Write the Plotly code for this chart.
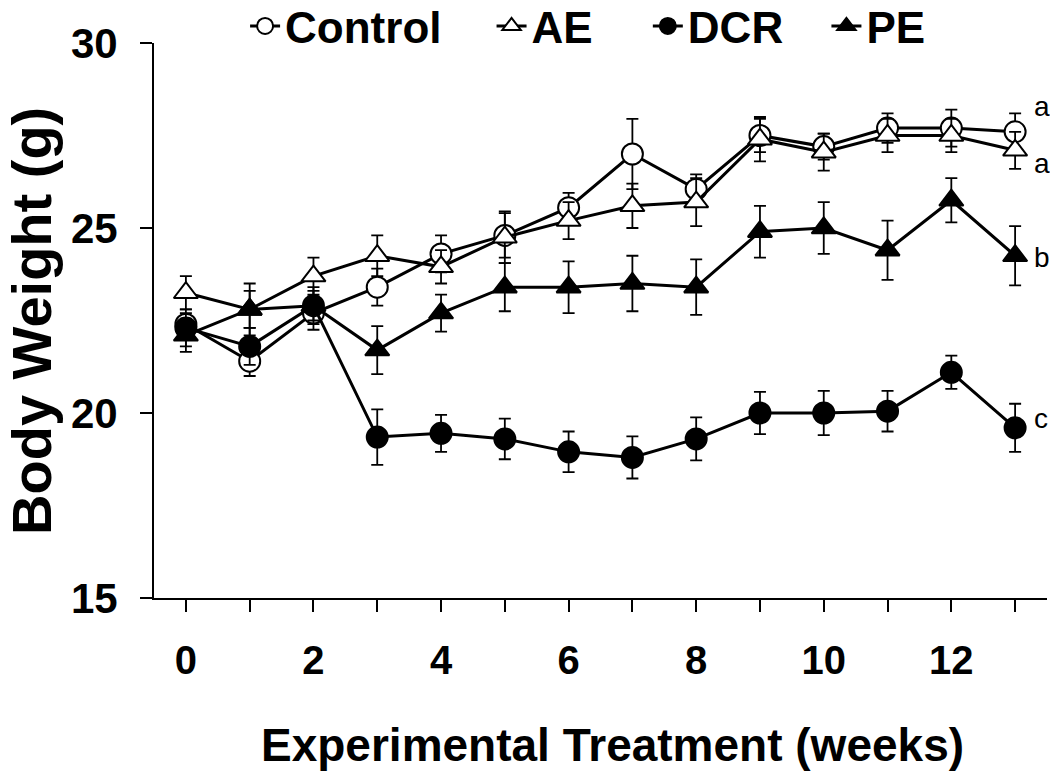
import plotly.graph_objects as go

weeks = list(range(14))
tick_labels = ["0", "", "2", "", "4", "", "6", "", "8", "", "10", "", "12", ""]

control = [22.4, 21.4, 22.7, 23.4, 24.3, 24.8, 25.55, 27.0, 26.05, 27.5, 27.2, 27.7, 27.7, 27.6]
control_err = [0.3, 0.4, 0.45, 0.5, 0.5, 0.6, 0.4, 0.95, 0.4, 0.45, 0.35, 0.4, 0.5, 0.5]
ae = [23.25, 22.8, 23.7, 24.25, 23.95, 24.75, 25.2, 25.6, 25.7, 27.4, 27.05, 27.5, 27.5, 27.1]
ae_err = [0.45, 0.5, 0.5, 0.55, 0.45, 0.7, 0.5, 0.6, 0.65, 0.6, 0.5, 0.45, 0.45, 0.5]
dcr = [22.3, 21.8, 22.9, 19.35, 19.45, 19.3, 18.95, 18.8, 19.3, 20.0, 20.0, 20.05, 21.1, 19.6]
dcr_err = [0.5, 0.5, 0.4, 0.75, 0.5, 0.55, 0.55, 0.57, 0.58, 0.57, 0.6, 0.55, 0.45, 0.65]
pe = [22.1, 22.8, 22.9, 21.7, 22.7, 23.4, 23.4, 23.5, 23.4, 24.9, 25.0, 24.4, 25.75, 24.25]
pe_err = [0.45, 0.7, 0.5, 0.65, 0.5, 0.65, 0.7, 0.75, 0.75, 0.7, 0.7, 0.8, 0.6, 0.8]

sig_letters = ["a", "a", "b", "c"]
sig_y = [28.28, 26.75, 24.2, 19.85]

FONT = "Liberation Sans, Arial, sans-serif"

series = [
    ("Control", control, control_err, "circle", "white", "legend", 0.102),
    ("AE", ae, ae_err, "triangle-up", "white", "legend2", 0.378),
    ("DCR", dcr, dcr_err, "circle", "black", "legend3", 0.553),
    ("PE", pe, pe_err, "triangle-up", "black", "legend4", 0.753),
]

fig = go.Figure()
legend_layouts = {}
for name, vals, err, sym, fill, lg, lx in series:
    fig.add_trace(go.Scatter(
        x=weeks, y=vals, name=name, mode="lines+markers", legend=lg,
        line=dict(color="black", width=3),
        marker=dict(symbol=sym, size=21, color=fill, line=dict(color="black", width=2)),
        error_y=dict(type="data", array=err, visible=True, color="black", thickness=1.8, width=6),
    ))
    legend_layouts[lg] = dict(
        orientation="h", x=lx, y=1.03, xanchor="left", yanchor="middle",
        font=dict(family=FONT, size=44, color="black", weight="bold"),
        bgcolor="rgba(0,0,0,0)", borderwidth=0,
    )

annotations = []
for txt, yv in zip(sig_letters, sig_y):
    annotations.append(dict(x=13.27, y=yv, xref="x", yref="y", text=txt, showarrow=False,
                            xanchor="left", yanchor="middle",
                            font=dict(family=FONT, size=28, color="black")))
annotations.append(dict(x=0.513, y=-0.265, xref="paper", yref="paper",
                        text="<b>Experimental Treatment (weeks)</b>", showarrow=False,
                        xanchor="center", yanchor="middle",
                        font=dict(family=FONT, size=46, color="black")))
annotations.append(dict(x=-0.1372, y=0.5, xref="paper", yref="paper",
                        text="<b>Body Weight (g)</b>", showarrow=False, textangle=-90,
                        xanchor="center", yanchor="middle",
                        font=dict(family=FONT, size=56, color="black")))

fig.update_layout(
    width=1050, height=780, autosize=False,
    margin=dict(l=154, r=3, t=43, b=182, autoexpand=False),
    plot_bgcolor="white", paper_bgcolor="white",
    showlegend=True,
    annotations=annotations,
    font=dict(family=FONT, color="black"),
    **legend_layouts,
)
fig.update_xaxes(range=[-0.5, 13.5], tickmode="array", tickvals=weeks, ticktext=tick_labels,
                 ticks="outside", ticklen=12, tickwidth=1.5, tickcolor="black",
                 showline=True, linecolor="black", linewidth=2, showgrid=False, zeroline=False,
                 ticklabelstandoff=14,
                 tickfont=dict(family=FONT, size=40, color="black", weight="bold"))
fig.update_yaxes(range=[15, 30], tickmode="array", tickvals=[15, 20, 25, 30],
                 ticks="outside", ticklen=12, tickwidth=1.5, tickcolor="black",
                 showline=True, linecolor="black", linewidth=2, showgrid=False, zeroline=False,
                 ticklabelstandoff=14,
                 tickfont=dict(family=FONT, size=42, color="black", weight="bold"))

fig.write_html("out.html", config={"displayModeBar": False},
               post_script="document.body.style.margin='0';document.body.style.overflow='hidden';")
